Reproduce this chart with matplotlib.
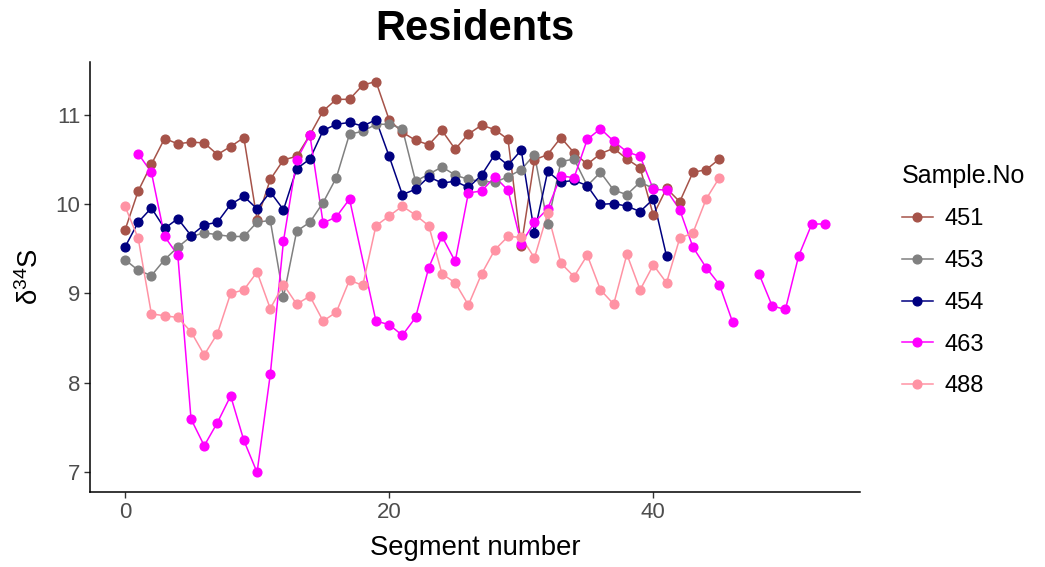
import matplotlib

matplotlib.use("Agg")
import matplotlib.pyplot as plt
import numpy as np
from matplotlib.ticker import MultipleLocator

plt.rcParams["font.family"] = ["Liberation Sans", "DejaVu Sans"]
plt.rcParams["mathtext.fontset"] = "custom"
plt.rcParams["mathtext.rm"] = "Liberation Sans"
plt.rcParams["mathtext.it"] = "Liberation Sans:italic"

SAMPLES = ["451", "453", "454", "463", "488"]
COLORS = ["#A65349", "#808080", "#000080", "#FF00FF", "#FF93A4"]

# segments are consecutive from 0 unless listed
d34s_451 = [9.71, 10.15, 10.45, 10.74, 10.68, 10.70, 10.69, 10.56, 10.65, 10.75,
            9.83, 10.28, 10.50, 10.54, 10.78, 11.05, 11.18, 11.18, 11.34, 11.38,
            10.95, 10.81, 10.72, 10.67, 10.83, 10.62, 10.79, 10.89, 10.84, 10.73,
            9.53, 10.50, 10.56, 10.75, 10.58, 10.45, 10.57, 10.63, 10.51, 10.41,
            9.88, 10.18, 10.03, 10.36, 10.39, 10.51]
d34s_453 = [9.38, 9.26, 9.20, 9.38, 9.52, 9.64, 9.68, 9.66, 9.64, 9.64,
            9.80, 9.82, 8.96, 9.70, 9.80, 10.02, 10.30, 10.79, 10.82, 10.90,
            10.90, 10.85, 10.26, 10.34, 10.42, 10.33, 10.28, 10.26, 10.25, 10.31,
            10.39, 10.56, 9.78, 10.48, 10.51, 10.21, 10.36, 10.16, 10.11, 10.25,
            10.18]
d34s_454 = [9.52, 9.80, 9.96, 9.73, 9.84, 9.65, 9.77, 9.80, 10.00, 10.09,
            9.95, 10.14, 9.94, 10.40, 10.51, 10.83, 10.90, 10.92, 10.88, 10.95,
            10.54, 10.11, 10.17, 10.31, 10.24, 10.26, 10.19, 10.33, 10.56, 10.44,
            10.61, 9.68, 10.37, 10.25, 10.27, 10.21, 10.00, 10.01, 9.98, 9.92,
            10.06, 9.42]
seg_463 = [1, 2, 3, 4, 5, 6, 7, 8, 9, 10, 11, 12, 13, 14, 15, 16, 17,
           19, 20, 21, 22, 23, 24, 25, 26, 27, 28, 29, 30, 31, 32, 33, 34, 35,
           36, 37, 38, 39, 40, 41, 42, 43, 44, 45, 46, 47, 48, 49, 50, 51, 52, 53]
d34s_463 = [10.57, 10.36, 9.64, 9.43, 7.59, 7.29, 7.55, 7.85, 7.35, 6.99,
            8.09, 9.59, 10.50, 10.78, 9.79, 9.86, 10.06,
            8.69, 8.65, 8.53, 8.73, 9.29, 9.64, 9.36, 10.13, 10.15, 10.31, 10.16,
            9.56, 9.80, 9.95, 10.32, 10.30, 10.73, 10.85, 10.71, 10.59, 10.54,
            10.17, 10.16, 9.94, 9.52, 9.29, 9.10, 8.68, np.nan, 9.22, 8.86,
            8.82, 9.42, 9.78, 9.78]
d34s_488 = [9.98, 9.62, 8.77, 8.75, 8.73, 8.57, 8.31, 8.55, 9.00, 9.04,
            9.24, 8.83, 9.10, 8.88, 8.97, 8.69, 8.79, 9.15, 9.09, 9.76,
            9.87, 9.98, 9.88, 9.76, 9.22, 9.12, 8.87, 9.22, 9.49, 9.64,
            9.63, 9.40, 9.90, 9.34, 9.19, 9.43, 9.04, 8.88, 9.44, 9.04,
            9.32, 9.12, 9.62, 9.68, 10.06, 10.30]

series = [
    (list(range(len(d34s_451))), d34s_451),
    (list(range(len(d34s_453))), d34s_453),
    (list(range(len(d34s_454))), d34s_454),
    (seg_463, d34s_463),
    (list(range(len(d34s_488))), d34s_488),
]

fig = plt.figure(figsize=(10.45, 5.67), dpi=100)
ax = fig.add_axes([0.0861, 0.1323, 0.7369, 0.7584])

# lines first, then points on top (like stacked layers)
for (x, y), col in zip(series, COLORS):
    ax.plot(x, y, color=col, lw=1.1, zorder=2)
handles = []
for (x, y), col, name in zip(series, COLORS, SAMPLES):
    ax.plot(x, y, ls="none", marker="o", ms=6.3, color=col, mec=col, zorder=3)
    h, = ax.plot([], [], color=col, lw=1.1, marker="o", ms=6.3, mec=col)
    handles.append(h)

ax.xaxis.set_major_locator(MultipleLocator(20))
ax.yaxis.set_major_locator(MultipleLocator(1))
for side in ("top", "right"):
    ax.spines[side].set_visible(False)
for side in ("left", "bottom"):
    ax.spines[side].set_color("black")
    ax.spines[side].set_linewidth(1.1)
ax.tick_params(direction="out", length=4, width=1.0, color="#333333",
               labelcolor="#4D4D4D", labelsize=16, pad=3)

ax.set_xlabel("Segment number", fontsize=19.8, color="black")
ax.xaxis.set_label_coords(0.5, -0.130)
ax.xaxis.label.set_va("center")
ax.set_ylabel("δ$^{34}$S", fontsize=19.8, color="black")
ax.yaxis.set_label_coords(-0.078, 0.5)
ax.yaxis.label.set_va("center")

fig.text(0.4545, 0.948, "Residents", ha="center", va="center",
         fontsize=30, fontweight="bold")

leg = fig.legend(handles, SAMPLES, title="Sample.No", loc="upper left",
                 bbox_to_anchor=(0.852, 0.731), frameon=False, fontsize=17,
                 title_fontsize=18, numpoints=1, handlelength=1.3,
                 handletextpad=0.5, labelspacing=0.84, borderpad=0)
leg._legend_box.align = "left"

fig.savefig("out.png", dpi=100)
